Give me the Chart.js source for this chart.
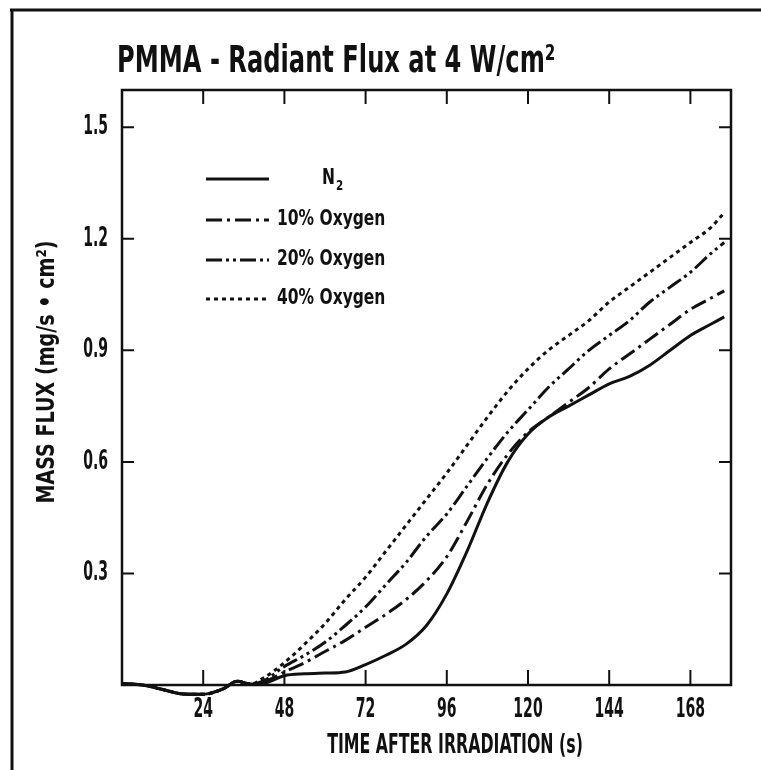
<!DOCTYPE html>
<html>
<head>
<meta charset="utf-8">
<title>PMMA - Radiant Flux at 4 W/cm²</title>
<script src="https://cdn.jsdelivr.net/npm/chart.js@4.4.1/dist/chart.umd.min.js"></script>
<style>
  html, body { margin: 0; padding: 0; background: #fff; }
  #wrap { width: 761px; height: 770px; }
</style>
</head>
<body>
<div id="wrap"><canvas id="flux-chart" width="761" height="770"></canvas></div>
<script>
var FONT = "'DejaVu Sans Condensed', 'Liberation Sans Narrow', sans-serif";
var INK = '#111';

// time after irradiation (s)
var times   = [0, 6, 12, 18, 24, 30, 34, 38, 42, 48, 54, 60, 66, 72, 78, 84, 90, 96, 102, 108, 114, 120, 126, 132, 138, 144, 150, 156, 162, 168, 174, 178];
// mass flux (mg/s.cm2) for each atmosphere
var fluxN2  = [0.004, 0.0, -0.012, -0.024, -0.025, -0.01, 0.01, 0.003, 0.005, 0.025, 0.03, 0.032, 0.035, 0.055, 0.08, 0.11, 0.16, 0.245, 0.36, 0.49, 0.60, 0.675, 0.72, 0.75, 0.78, 0.81, 0.83, 0.86, 0.90, 0.94, 0.97, 0.99];
var flux10  = [0.004, 0.0, -0.012, -0.024, -0.025, -0.01, 0.01, 0.003, 0.008, 0.035, 0.06, 0.09, 0.12, 0.155, 0.19, 0.23, 0.28, 0.345, 0.44, 0.54, 0.62, 0.68, 0.72, 0.76, 0.80, 0.85, 0.89, 0.93, 0.97, 1.01, 1.04, 1.06];
var flux20  = [0.004, 0.0, -0.012, -0.024, -0.025, -0.01, 0.01, 0.003, 0.012, 0.05, 0.08, 0.115, 0.16, 0.21, 0.27, 0.33, 0.40, 0.46, 0.535, 0.61, 0.68, 0.74, 0.80, 0.85, 0.90, 0.94, 0.98, 1.03, 1.07, 1.11, 1.16, 1.19];
var flux40  = [0.004, 0.0, -0.012, -0.024, -0.025, -0.01, 0.01, 0.003, 0.02, 0.06, 0.11, 0.165, 0.23, 0.29, 0.36, 0.43, 0.50, 0.57, 0.645, 0.72, 0.79, 0.85, 0.90, 0.94, 0.98, 1.03, 1.07, 1.11, 1.15, 1.19, 1.23, 1.27];

var seriesNames = ['N₂', '10% Oxygen', '20% Oxygen', '40% Oxygen'];
var seriesData  = [fluxN2, flux10, flux20, flux40];
var seriesDash  = [[], [16, 5, 3, 5], [16, 4, 3, 4, 3, 4], [4, 4]];

var timeTicks = [24, 48, 72, 96, 120, 144, 168];
var fluxTicks = [0.3, 0.6, 0.9, 1.2, 1.5];

function points(values) {
  return values.map(function(v, i) { return {x: times[i], y: v}; });
}

// bold condensed lettering: the face is squeezed sideways by sx
function squeezeText(c, text, x, y, size, sx, align, angle) {
  c.save();
  c.font = 'bold ' + size + 'px ' + FONT;
  c.textAlign = align || 'left';
  c.textBaseline = 'middle';
  c.translate(x, y);
  if (angle) c.rotate(angle);
  c.scale(sx, 1);
  c.fillText(text, 0, 0);
  var w = c.measureText(text).width * sx;
  c.restore();
  return w;
}

// frame, inward tick marks, all lettering and the legend box
var paperPlugin = {
  id: 'paper',
  beforeDraw: function(chart) {
    var c = chart.ctx;
    c.save();
    c.fillStyle = '#fff';
    c.fillRect(0, 0, chart.width, chart.height);
    c.strokeStyle = INK;
    c.lineWidth = 3;
    c.beginPath();
    c.moveTo(10, 10); c.lineTo(chart.width, 10);
    c.moveTo(12, 10); c.lineTo(12, chart.height);
    c.stroke();
    c.restore();
  },
  afterDraw: function(chart) {
    var c = chart.ctx, a = chart.chartArea;
    var xs = chart.scales.x, ys = chart.scales.y;
    c.save();
    c.strokeStyle = INK;
    c.fillStyle = INK;
    c.lineWidth = 2.5;
    c.strokeRect(a.left, a.top, a.right - a.left, a.bottom - a.top);

    c.lineWidth = 2;
    c.beginPath();
    timeTicks.forEach(function(t) {
      var px = xs.getPixelForValue(t);
      c.moveTo(px, a.bottom); c.lineTo(px, a.bottom - 15);
      c.moveTo(px, a.top); c.lineTo(px, a.top + 14);
    });
    fluxTicks.forEach(function(v) {
      var py = ys.getPixelForValue(v);
      c.moveTo(a.left, py); c.lineTo(a.left + 12, py);
      c.moveTo(a.right, py); c.lineTo(a.right - 12, py);
    });
    c.stroke();

    // tick labels
    timeTicks.forEach(function(t) {
      squeezeText(c, String(t), xs.getPixelForValue(t), a.bottom + 25, 26, 0.6, 'center');
    });
    fluxTicks.forEach(function(v) {
      squeezeText(c, v.toFixed(1), a.left - 14, ys.getPixelForValue(v), 26, 0.6, 'right');
    });

    squeezeText(c, 'PMMA - Radiant Flux at 4 W/cm²', 117, 62, 37, 0.726, 'left');
    squeezeText(c, 'TIME AFTER IRRADIATION (s)', 455, 746, 27, 0.65, 'center');
    squeezeText(c, 'MASS FLUX (mg/s • cm²)', 47, 372, 25, 0.85, 'center', -Math.PI / 2);

    // legend
    var rowY = [179, 220, 260, 299];
    chart.data.datasets.forEach(function(ds, i) {
      var y = rowY[i];
      c.lineWidth = 3;
      c.setLineDash(ds.borderDash || []);
      c.beginPath();
      c.moveTo(206, y); c.lineTo(269, y);
      c.stroke();
      c.setLineDash([]);
      if (ds.label.indexOf('₂') >= 0) {
        var base = ds.label.replace('₂', '');
        var w = squeezeText(c, base, 322, y, 21, 0.82, 'left');
        squeezeText(c, '2', 322 + w + 1, y + 7, 14, 0.82, 'left');
      } else {
        squeezeText(c, ds.label, 277, y, 21, 0.82, 'left');
      }
    });
    c.restore();
  }
};

var ctx = document.getElementById('flux-chart');
var fluxChart = new Chart(ctx, {
  type: 'line',
  data: {
    datasets: seriesNames.map(function(name, i) {
      return {
        label: name,
        data: points(seriesData[i]),
        borderColor: INK,
        borderWidth: 3,
        borderDash: seriesDash[i],
        pointRadius: 0,
        cubicInterpolationMode: 'monotone',
        fill: false,
        clip: false
      };
    })
  },
  options: {
    responsive: false,
    animation: false,
    layout: { padding: { left: 0, right: 30, top: 90, bottom: 0 } },
    plugins: {
      legend: { display: false },
      title: { display: false },
      tooltip: { enabled: false }
    },
    scales: {
      x: {
        type: 'linear',
        min: 0,
        max: 180,
        afterBuildTicks: function(scale) {
          scale.ticks = timeTicks.map(function(v) { return {value: v}; });
        },
        afterFit: function(scale) { scale.height = 85; },
        grid: { display: false, drawTicks: false },
        border: { display: false },
        ticks: { display: false }
      },
      y: {
        type: 'linear',
        min: 0,
        max: 1.6,
        afterBuildTicks: function(scale) {
          scale.ticks = fluxTicks.map(function(v) { return {value: v}; });
        },
        afterFit: function(scale) { scale.width = 122; },
        grid: { display: false, drawTicks: false },
        border: { display: false },
        ticks: { display: false }
      }
    }
  },
  plugins: [paperPlugin]
});
</script>
</body>
</html>
